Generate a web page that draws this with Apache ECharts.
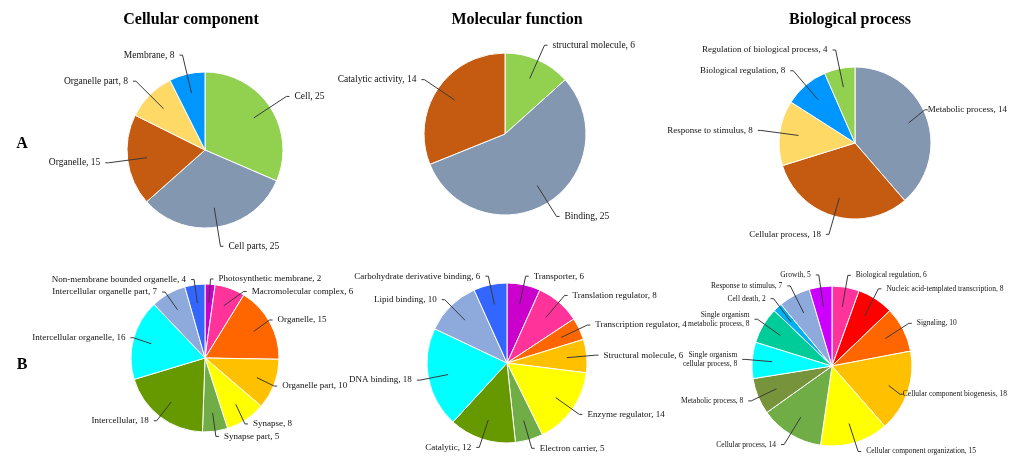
<!DOCTYPE html>
<html><head><meta charset="utf-8">
<script src="https://cdn.jsdelivr.net/npm/echarts@6/dist/echarts.min.js"></script>
<style>html,body{margin:0;padding:0;background:#fff}#c{width:1011px;height:457px}</style>
</head><body><div id="c"></div>
<script>
// ---- Row A ----
const ccNames  = ['Cell','Cell parts','Organelle','Organelle part','Membrane'];
const ccCounts = [25,25,15,8,8];
const ccShares = [25.5,25.9,15.3,8.3,6.0];           // slice sizes as drawn in the picture
const ccColors = ['#92D050','#8497B0','#C55A11','#FFD966','#0096FF'];

const mfNames  = ['structural molecule','Binding','Catalytic activity'];
const mfCounts = [6,25,14];
const mfShares = [6,25,14];
const mfColors = ['#92D050','#8497B0','#C55A11'];

const bpNames  = ['Metabolic process','Cellular process','Response to stimulus','Biological regulation','Regulation of biological process'];
const bpCounts = [14,18,8,8,4];
const bpShares = [20.1,16.4,7.2,4.9,3.4];              // slice sizes as drawn in the picture
const bpColors = ['#8497B0','#C55A11','#FFD966','#0096FF','#92D050'];

// ---- Row B ----
const cc2Names  = ['Photosynthetic membrane','Macromolecular complex','Organelle','Organelle part','Synapse','Synapse part','Intercellular','Intercellular organelle','Intercellular organelle part','Non-membrane bounded organelle'];
const cc2Counts = [2,6,15,10,8,5,18,16,7,4];
const cc2Colors = ['#CC00CC','#FF3399','#FF6600','#FFC000','#FFFF00','#70AD47','#669900','#00FFFF','#8EA9DB','#3366FF'];

const mf2Names  = ['Transporter','Translation regulator','Transcription regulator','Structural molecule','Enzyme regulator','Electron carrier','Catalytic','DNA binding','Lipid binding','Carbohydrate derivative binding'];
const mf2Counts = [6,8,4,6,14,5,12,18,10,6];
const mf2Colors = ['#CC00CC','#FF3399','#FF6600','#FFC000','#FFFF00','#70AD47','#669900','#00FFFF','#8EA9DB','#3366FF'];

const bp2Names  = ['Biological regulation','Nucleic acid-templated transcription','Signaling','Cellular component biogenesis','Cellular component organization','Cellular process','Metabolic process','Single organism\ncellular process','Single organism\nmetabolic process','Cell death','Response to stimulus','Growth'];
const bp2Counts = [6,8,10,18,15,14,8,8,8,2,7,5];
const bp2Colors = ['#FF3399','#FF0000','#FF6600','#FFC000','#FFFF00','#70AD47','#77933C','#00FFFF','#00CC99','#00B0F0','#8EA9DB','#CC00FF'];

const titles = ['Cellular component','Molecular function','Biological process'];
const rowLabels = ['A','B'];

const SERIF = '"Liberation Serif", "Times New Roman", serif';
const W = 1011, H = 457;

// keep every label inside the canvas (shift it sideways if it would run off)
function keepInside(p) {
  const r = p.labelRect;
  if (r.x + r.width > W - 4) return { x: W - 4 - r.width, align: 'left' };
  if (r.x < 4) return { x: 4, align: 'left' };
  return {};
}

function pieSeries(names, counts, shares, colors, center, r, fs, lenF) {
  const data = names.map((n, i) => ({ name: n, value: shares[i], itemStyle: { color: colors[i] } }));
  const base = {
    type: 'pie', center: center, startAngle: 90, clockwise: true,
    animation: false, silent: true,
    left: 0, top: 0, width: 1400, height: H
  };
  return [
    Object.assign({}, base, {
      radius: r, data: data,
      itemStyle: { borderColor: '#fff', borderWidth: 1 },
      label: { show: false }, labelLine: { show: false }, z: 2
    }),
    Object.assign({}, base, {
      radius: r * 0.75,
      data: names.map((n, i) => ({ name: n, value: shares[i], itemStyle: { color: 'rgba(0,0,0,0)' } })),
      itemStyle: { borderWidth: 0 },
      label: {
        show: true, position: 'outside', fontFamily: SERIF, fontSize: fs, color: '#111',
        lineHeight: fs + 1.5,
        formatter: p => p.name + ', ' + counts[p.dataIndex]
      },
      labelLine: { show: true, length: r * lenF, length2: 3, smooth: false,
        lineStyle: { color: '#3a3a3a', width: 1 } },
      labelLayout: keepInside,
      avoidLabelOverlap: true, z: 3
    })
  ];
}

const series = [].concat(
  pieSeries(ccNames, ccCounts, ccShares, ccColors, [205, 150], 78, 9.5, 0.5),
  pieSeries(mfNames, mfCounts, mfShares, mfColors, [505, 134], 81, 9.5, 0.45),
  pieSeries(bpNames, bpCounts, bpShares, bpColors, [855, 143], 76, 9, 0.5),
  pieSeries(cc2Names, cc2Counts, cc2Counts, cc2Colors, [205, 358], 74, 9, 0.32),
  pieSeries(mf2Names, mf2Counts, mf2Counts, mf2Colors, [507, 363], 80, 9, 0.36),
  pieSeries(bp2Names, bp2Counts, bp2Counts, bp2Colors, [832, 366], 80, 7.5, 0.4)
);

const titleX = [191, 517, 850];
const graphic = titles.map((t, i) => ({
  type: 'text', x: titleX[i], y: 20,
  style: { text: t, align: 'center', verticalAlign: 'middle', font: 'bold 16px ' + SERIF, fill: '#000' }
})).concat(rowLabels.map((t, i) => ({
  type: 'text', x: 22, y: [144, 365][i],
  style: { text: t, align: 'center', verticalAlign: 'middle', font: 'bold 16px ' + SERIF, fill: '#000' }
})));

const chart = echarts.init(document.getElementById('c'), null, { renderer: 'canvas' });
chart.setOption({ backgroundColor: '#fff', animation: false, series: series, graphic: graphic });
</script></body></html>
